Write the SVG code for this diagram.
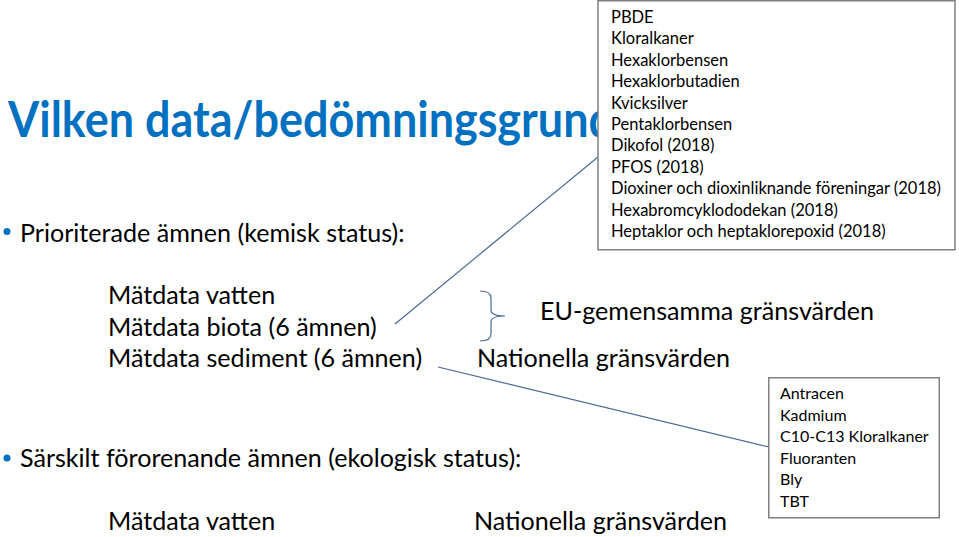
<svg xmlns="http://www.w3.org/2000/svg" width="959" height="537" viewBox="0 0 959 537">
<style>
.t{font-family:Lato,"Open Sans","Liberation Sans",sans-serif;fill:#000}
.b{font-size:25.1px}
.s{font-size:16px}
.s1{font-size:16.5px}
.title{font-family:Lato,"Open Sans","Liberation Sans",sans-serif;font-weight:bold;font-size:50px;fill:#0070C0}
.box{fill:#fff;stroke:#808080;stroke-width:1.5}
.con{fill:none;stroke:#4a6a96;stroke-width:1.2}
.dot{fill:#0070C0}
</style>
<defs><clipPath id="tc"><rect x="0" y="60" width="598" height="110"/></clipPath></defs>
<rect width="959" height="537" fill="#fff"/>
<g id="title" clip-path="url(#tc)"><text class="title" x="8" y="137" textLength="606" lengthAdjust="spacingAndGlyphs">Vilken data/bedömningsgrund</text></g>
<g id="connectors">
<line class="con" x1="395" y1="324" x2="598" y2="157"/>
<line class="con" x1="438" y1="367" x2="769" y2="447"/>
<path class="con" d="M480,291 Q491,291 491,298 L491,310 Q491,316 505,316 Q491,316 491,322 L491,334 Q491,341 480,341"/>
</g>
<g id="box1">
<rect class="box" x="598" y="0.75" width="357" height="249"/>
<text class="t s1" x="611">
<tspan x="611" y="23">PBDE</tspan>
<tspan x="611" y="44.4">Kloralkaner</tspan>
<tspan x="611" y="65.8">Hexaklorbensen</tspan>
<tspan x="611" y="87.2">Hexaklorbutadien</tspan>
<tspan x="611" y="108.6">Kvicksilver</tspan>
<tspan x="611" y="130">Pentaklorbensen</tspan>
<tspan x="611" y="151.4">Dikofol (2018)</tspan>
<tspan x="611" y="172.8">PFOS (2018)</tspan>
<tspan x="611" y="194.2">Dioxiner och dioxinliknande föreningar (2018)</tspan>
<tspan x="611" y="215.6">Hexabromcyklododekan (2018)</tspan>
<tspan x="611" y="237">Heptaklor och heptaklorepoxid (2018)</tspan>
</text>
</g>
<g id="bullet1">
<circle class="dot" cx="7" cy="231.5" r="3.5"/>
<text class="t b" x="20" y="242">Prioriterade ämnen (kemisk status):</text>
</g>
<g id="matdata1">
<text class="t b" x="108" y="304">Mätdata vatten</text>
<text class="t b" x="108" y="336">Mätdata biota (6 ämnen)</text>
<text class="t b" x="108" y="367">Mätdata sediment (6 ämnen)</text>
</g>
<g id="eu"><text class="t b" x="540" y="320">EU-gemensamma gränsvärden</text></g>
<g id="nat1"><text class="t b" x="477" y="367">Nationella gränsvärden</text></g>
<g id="box2">
<rect class="box" x="768.75" y="377.75" width="170.5" height="140"/>
<text class="t s">
<tspan x="780" y="399">Antracen</tspan>
<tspan x="780" y="420.6">Kadmium</tspan>
<tspan x="780" y="442.2">C10-C13 Kloralkaner</tspan>
<tspan x="780" y="463.8">Fluoranten</tspan>
<tspan x="780" y="485.4">Bly</tspan>
<tspan x="780" y="507">TBT</tspan>
</text>
</g>
<g id="bullet2">
<circle class="dot" cx="7" cy="458" r="3.5"/>
<text class="t b" x="20" y="467">Särskilt förorenande ämnen (ekologisk status):</text>
</g>
<g id="matdata2"><text class="t b" x="108" y="530">Mätdata vatten</text></g>
<g id="nat2"><text class="t b" x="474" y="530">Nationella gränsvärden</text></g>
</svg>
